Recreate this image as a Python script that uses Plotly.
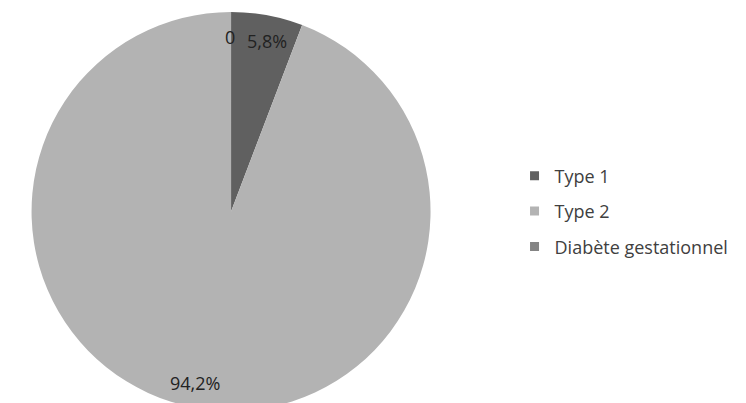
import plotly.graph_objects as go

labels = ["Type 1", "Type 2", "Diabète gestationnel"]
values = [5.8, 94.2, 0]
text_labels = ["5,8%", "94,2%", "0"]
colors = ["#606060", "#b3b3b3", "#848484"]

fig = go.Figure()
fig.add_trace(go.Pie(
    labels=labels,
    values=values,
    textinfo="none",
    marker=dict(colors=colors, line=dict(color="white", width=0)),
    sort=False,
    direction="clockwise",
    rotation=0,
    domain=dict(x=[0.019, 0.579], y=[0, 1]),
    showlegend=False,
    hoverinfo="label+percent",
))

# legend entries, one group each so the spacing can be opened up
for name, col in zip(labels, colors):
    fig.add_trace(go.Scatter(
        x=[None], y=[None], mode="markers", name=name, legendgroup=name,
        marker=dict(symbol="square", size=9, color=col),
    ))

# data labels placed like the original (best-fit positions)
lab_font = dict(family="Open Sans", size=18, color="#222222")
label_pos = [(0.347, 0.927), (0.251, 0.070), (0.298, 0.937)]
for txt, (lx, ly) in zip(text_labels, label_pos):
    fig.add_annotation(x=lx, y=ly, xref="paper", yref="paper", text=txt,
                       showarrow=False, xanchor="center", yanchor="middle", font=lab_font)

fig.update_layout(
    width=746, height=403,
    margin=dict(l=0, r=0, t=4, b=0),
    paper_bgcolor="white",
    plot_bgcolor="white",
    xaxis=dict(visible=False),
    yaxis=dict(visible=False),
    font=dict(family="Open Sans", size=18, color="#404040"),
    legend=dict(x=0.679, y=0.5, xanchor="left", yanchor="middle",
                tracegroupgap=9, itemwidth=30,
                font=dict(family="Open Sans", size=18, color="#404040")),
)

fig.write_html("out.html")
